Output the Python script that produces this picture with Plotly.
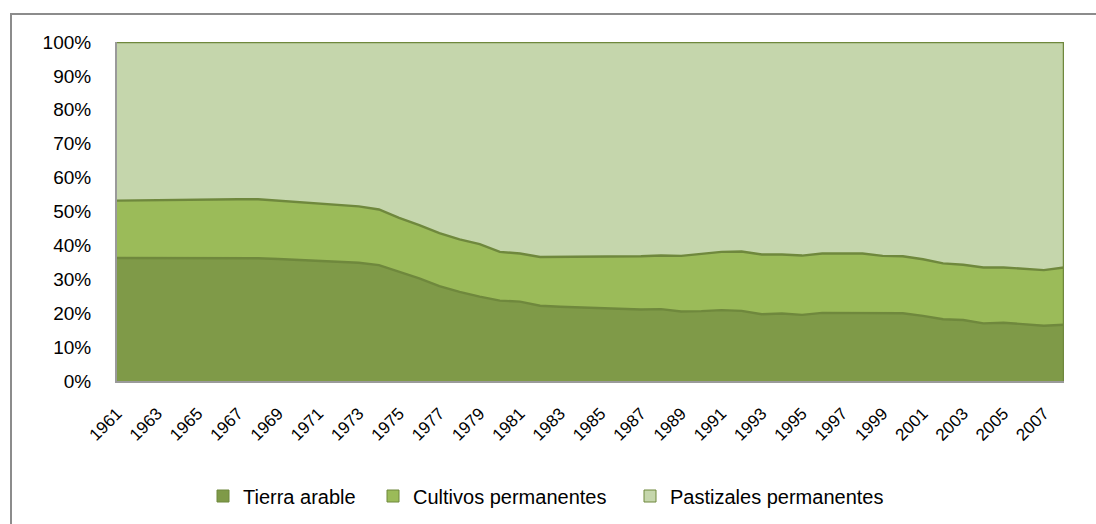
import plotly.graph_objects as go

years = list(range(1961, 2009))

tierra_arable = [36.3, 36.3, 36.3, 36.3, 36.3, 36.3, 36.3, 36.2, 36.0, 35.7,
                 35.4, 35.2, 34.9, 34.2, 32.2, 30.3, 28.0, 26.3, 24.9, 23.7,
                 23.4, 22.2, 21.9, 21.7, 21.5, 21.3, 21.1, 21.2, 20.5, 20.6,
                 20.9, 20.7, 19.7, 19.9, 19.5, 20.1, 20.1, 20.0, 20.0, 20.0,
                 19.2, 18.2, 18.0, 17.0, 17.2, 16.7, 16.3, 16.6]

cultivos_permanentes = [16.9, 17.0, 17.1, 17.1, 17.2, 17.2, 17.3, 17.4, 17.2, 17.1,
                        17.0, 16.8, 16.6, 16.4, 15.9, 15.7, 15.6, 15.5, 15.5, 14.4,
                        14.2, 14.4, 14.7, 15.0, 15.2, 15.5, 15.7, 15.8, 16.4, 16.9,
                        17.2, 17.5, 17.6, 17.4, 17.5, 17.5, 17.6, 17.6, 16.9, 16.8,
                        16.7, 16.5, 16.3, 16.5, 16.3, 16.3, 16.4, 16.9]

pastizales_permanentes = [46.8, 46.7, 46.6, 46.6, 46.5, 46.5, 46.4, 46.4, 46.8, 47.2,
                          47.6, 48.0, 48.5, 49.4, 51.9, 54.0, 56.4, 58.2, 59.6, 61.9,
                          62.4, 63.4, 63.4, 63.3, 63.3, 63.2, 63.2, 63.0, 63.1, 62.5,
                          61.9, 61.8, 62.7, 62.7, 63.0, 62.4, 62.3, 62.4, 63.1, 63.2,
                          64.1, 65.3, 65.7, 66.5, 66.5, 67.0, 67.3, 66.5]

series_names = ["Tierra arable", "Cultivos permanentes", "Pastizales permanentes"]
fill_colors = ["#7F9A48", "#9BBB59", "#C5D6AC"]
line_color = "#6F883D"

tick_years = [y for y in years if (y - 1961) % 2 == 0]
tick_labels = [str(y) for y in tick_years]
y_ticks = list(range(0, 101, 10))
y_labels = [f"{v}%" for v in y_ticks]

FONT = "Liberation Sans, Arial, sans-serif"

W, H = 1096, 524
L, R, T, B = 117, 1064, 42, 381
pw, ph = R - L, B - T


def px(x):
    return (x - L) / pw


def py(y):
    return (B - y) / ph


fig = go.Figure()
for name, vals, col in zip(series_names,
                           [tierra_arable, cultivos_permanentes, pastizales_permanentes],
                           fill_colors):
    fig.add_trace(go.Scatter(
        x=years, y=vals, name=name, mode="lines",
        stackgroup="one", groupnorm="percent",
        line=dict(color=line_color, width=2.4),
        fillcolor=col, showlegend=False,
    ))

legend_ids = ["legend", "legend2", "legend3"]
legend_text_x = [243, 413, 670]
for name, col, lid in zip(series_names, fill_colors, legend_ids):
    fig.add_trace(go.Scatter(
        x=[None], y=[None], name=name, mode="markers",
        marker=dict(symbol="square", size=12, color=col,
                    line=dict(color=line_color, width=1)),
        showlegend=True, legend=lid,
    ))

legend_common = dict(orientation="h", xanchor="left", y=py(496), yanchor="middle",
                     font=dict(size=20, family=FONT), itemwidth=30,
                     bgcolor="rgba(0,0,0,0)")
legend_layout = {}
for lid, tx in zip(legend_ids, legend_text_x):
    legend_layout[lid] = dict(legend_common, x=px(tx - 40))

fig.update_layout(
    width=W, height=H,
    margin=dict(l=L, r=W - R, t=T, b=H - B, autoexpand=False),
    paper_bgcolor="white", plot_bgcolor="white",
    font=dict(family=FONT, color="#000000"),
    showlegend=True,
    xaxis=dict(range=[1961, 2008], tickmode="array", tickvals=tick_years, ticktext=tick_labels,
               tickangle=-45, tickfont=dict(size=17, family=FONT), showgrid=False,
               zeroline=False, showline=True, linecolor="#9A9A9A", linewidth=2,
               ticks="", ticklabelstandoff=14),
    yaxis=dict(range=[0, 100], tickmode="array", tickvals=y_ticks, ticktext=y_labels,
               tickfont=dict(size=19, family=FONT), showgrid=False, zeroline=False,
               showline=True, linecolor="#9A9A9A", linewidth=2, ticks="",
               ticklabelstandoff=20),
    shapes=[
        dict(type="line", xref="x", yref="y", x0=2008, x1=2008, y0=0, y1=100,
             line=dict(color=line_color, width=2.5), layer="above"),
        dict(type="rect", xref="paper", yref="paper",
             x0=px(11), x1=px(1110), y0=py(14), y1=py(540),
             line=dict(color="#8C8C8C", width=2), fillcolor="rgba(0,0,0,0)", layer="below"),
    ],
    **legend_layout,
)

fig.write_html("out.html", config={"displayModeBar": False},
               post_script="document.body.style.margin='0';document.body.style.overflow='hidden';")
